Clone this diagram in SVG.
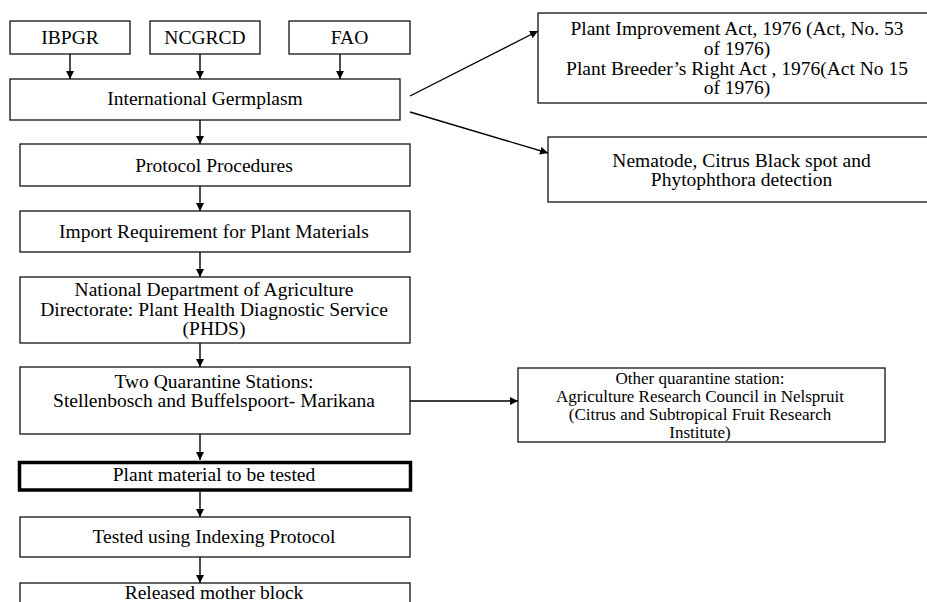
<svg xmlns="http://www.w3.org/2000/svg" width="927" height="602" viewBox="0 0 927 602">
<style>
.box{fill:#fff;stroke:#111;stroke-width:1.3}
.thick{fill:#fff;stroke:#000;stroke-width:3.5}
.t{font-family:'Liberation Serif','Times New Roman',Times,'DejaVu Serif',serif;font-size:19.5px;fill:#000;text-anchor:middle}
.s{font-size:17px}
.c{stroke:#000;stroke-width:1.4;fill:none;marker-end:url(#ah)}
</style>
<defs>
<marker id="ah" viewBox="0 0 10 10" refX="10" refY="5" markerWidth="8" markerHeight="8" markerUnits="userSpaceOnUse" orient="auto">
<path d="M0,0 L10,5 L0,10 Z" fill="#000"/>
</marker>
</defs>
<rect width="927" height="602" fill="#fff"/>
<g id="connectors">
<line class="c" x1="70" y1="54" x2="70" y2="79"/>
<line class="c" x1="200" y1="54" x2="200" y2="79"/>
<line class="c" x1="340" y1="54" x2="340" y2="79"/>
<line class="c" x1="200" y1="120" x2="200" y2="144"/>
<line class="c" x1="200" y1="186" x2="200" y2="211"/>
<line class="c" x1="200" y1="252" x2="200" y2="277"/>
<line class="c" x1="200" y1="343" x2="200" y2="367"/>
<line class="c" x1="200" y1="434" x2="200" y2="460"/>
<line class="c" x1="200" y1="492" x2="200" y2="517"/>
<line class="c" x1="200" y1="557" x2="200" y2="583"/>
<line class="c" x1="410" y1="96" x2="538" y2="31"/>
<line class="c" x1="410" y1="112" x2="548" y2="153"/>
<line class="c" x1="410" y1="401" x2="518" y2="401"/>
</g>
<g id="ibpgr"><rect class="box" x="10" y="21" width="120" height="33"/><text class="t" x="70" y="44">IBPGR</text></g>
<g id="ncgrcd"><rect class="box" x="150" y="21" width="110" height="33"/><text class="t" x="205" y="44">NCGRCD</text></g>
<g id="fao"><rect class="box" x="289" y="21" width="121" height="33"/><text class="t" x="349.5" y="44">FAO</text></g>
<g id="intl"><rect class="box" x="10" y="79" width="390" height="41"/><text class="t" x="205" y="105">International Germplasm</text></g>
<g id="acts"><rect class="box" x="538" y="13" width="400" height="90"/>
<text class="t" x="737" y="35">Plant Improvement Act,  1976 (Act, No. 53</text>
<text class="t" x="737" y="55">of 1976)</text>
<text class="t" x="737" y="75">Plant Breeder’s Right Act , 1976(Act No 15</text>
<text class="t" x="737" y="94">of 1976)</text></g>
<g id="nematode"><rect class="box" x="548" y="137" width="390" height="65"/>
<text class="t" x="741.5" y="167">Nematode, Citrus Black spot and</text>
<text class="t" x="741.5" y="186">Phytophthora detection</text></g>
<g id="protocol"><rect class="box" x="20" y="144" width="390" height="42"/><text class="t" x="214" y="172">Protocol Procedures</text></g>
<g id="import"><rect class="box" x="20" y="211" width="390" height="41"/><text class="t" x="214" y="238">Import Requirement for Plant Materials</text></g>
<g id="nda"><rect class="box" x="20" y="277" width="390" height="66"/>
<text class="t" x="214" y="296">National Department of Agriculture</text>
<text class="t" x="214" y="316">Directorate: Plant Health Diagnostic Service</text>
<text class="t" x="214" y="335">(PHDS)</text></g>
<g id="twoq"><rect class="box" x="20" y="367" width="390" height="67"/>
<text class="t" x="214" y="388">Two Quarantine Stations:</text>
<text class="t" x="214" y="407">Stellenbosch and Buffelspoort- Marikana</text></g>
<g id="otherq"><rect class="box" x="518" y="368" width="367" height="74"/>
<text class="t s" x="700" y="384">Other quarantine station:</text>
<text class="t s" x="700" y="402">Agriculture Research Council in Nelspruit</text>
<text class="t s" x="700" y="420">(Citrus and Subtropical Fruit Research</text>
<text class="t s" x="700" y="438">Institute)</text></g>
<g id="plantmat"><rect class="thick" x="19.5" y="462.5" width="391" height="27.5"/><text class="t" x="214" y="481">Plant material to be tested</text></g>
<g id="tested"><rect class="box" x="20" y="517" width="390" height="40"/><text class="t" x="214" y="543">Tested using Indexing Protocol</text></g>
<g id="released"><rect class="box" x="20" y="583" width="390" height="40"/><text class="t" x="214" y="599">Released mother block</text></g>
</svg>
